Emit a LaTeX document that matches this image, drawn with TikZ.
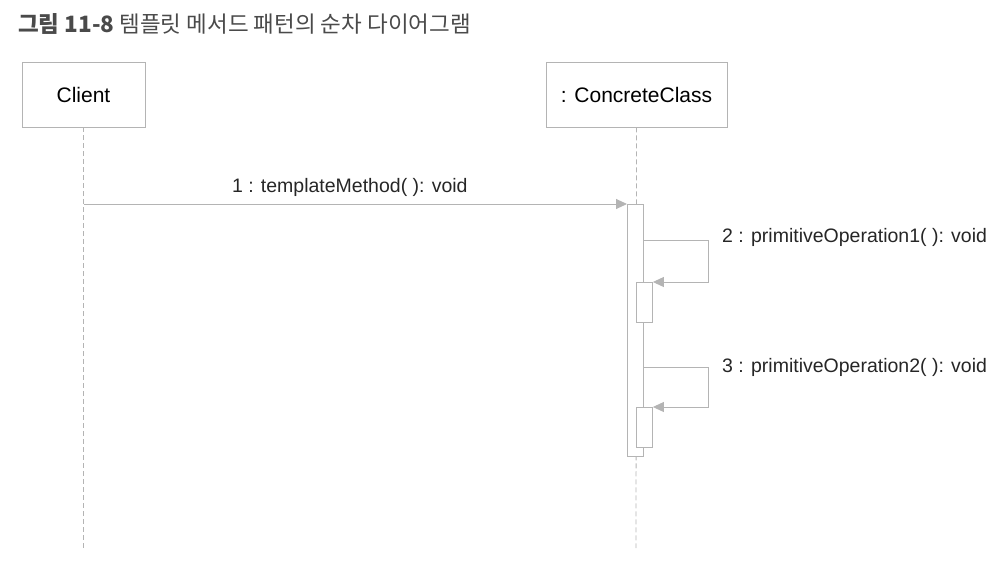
\documentclass[tikz,border=0pt]{standalone}
\usepackage{fontspec}
\setmainfont{Liberation Sans}
\newfontfamily\krfont{Noto Sans CJK KR}
\usetikzlibrary{arrows.meta}
\definecolor{lgray}{HTML}{B4B4B4}
\definecolor{tgray}{HTML}{4A4A4A}
\begin{document}
\begin{tikzpicture}[x=1pt,y=-1pt,
  objbox/.style={draw=lgray,line width=0.9pt,minimum width=#1,minimum height=65pt,inner sep=0pt,font=\fontsize{21}{24}\selectfont},
  lifeline/.style={draw=lgray,dashed,dash pattern=on 5pt off 3pt,line width=0.8pt},
  actbox/.style={draw=lgray,fill=white,line width=0.9pt},
  msg/.style={draw=lgray,line width=0.9pt,-{Triangle[length=11pt,width=10pt,fill=lgray]}},
  msglabel/.style={font=\fontsize{19.5}{22}\selectfont,text=black!85,inner sep=0pt}]
\useasboundingbox (0,0) rectangle (998,565);
\node[anchor=west,inner sep=0pt,text=tgray] (title) at (18,24) {\krfont\fontsize{22.5}{26}\selectfont\textbf{그림 11-8} 템플릿 메서드 패턴의 순차 다이어그램};
\node[objbox=123pt] (client) at (83.5,94.5) {Client};
\node[objbox=181pt] (cc) at (636.5,94.5) {: ConcreteClass};
\coordinate (clend) at (83.5,548);
\coordinate (ccend) at (636,548);
\draw[lifeline] (client.south) -- (clend);
\draw[lifeline] (cc.south) -- (ccend);
% activations
\node[actbox,minimum width=16pt,minimum height=252pt,inner sep=0pt,anchor=north west] (act) at (627,204) {};
\node[actbox,minimum width=16pt,minimum height=40pt,inner sep=0pt,anchor=north west] (act2) at (636,282) {};
\node[actbox,minimum width=16pt,minimum height=40pt,inner sep=0pt,anchor=north west] (act3) at (636,407) {};
% message 1
\coordinate (m1s) at (83.5,204);
\draw[msg] (m1s) -- (act.north west) node[msglabel,pos=0.49,above=7pt] (l1) {1 : templateMethod( ): void};
% self call 2
\coordinate (s2a) at (643,240);
\coordinate (s2b) at (708,240);
\coordinate (s2c) at (708,282);
\draw[msg] (s2a) -- (s2b) -- (s2c) -- (act2.north east);
\node[msglabel,anchor=west] (l2) at (722,237) {2 : primitiveOperation1( ): void};
% self call 3
\coordinate (s3a) at (643,367);
\coordinate (s3b) at (708,367);
\coordinate (s3c) at (708,407);
\draw[msg] (s3a) -- (s3b) -- (s3c) -- (act3.north east);
\node[msglabel,anchor=west] (l3) at (722,367) {3 : primitiveOperation2( ): void};
\end{tikzpicture}
\end{document}
